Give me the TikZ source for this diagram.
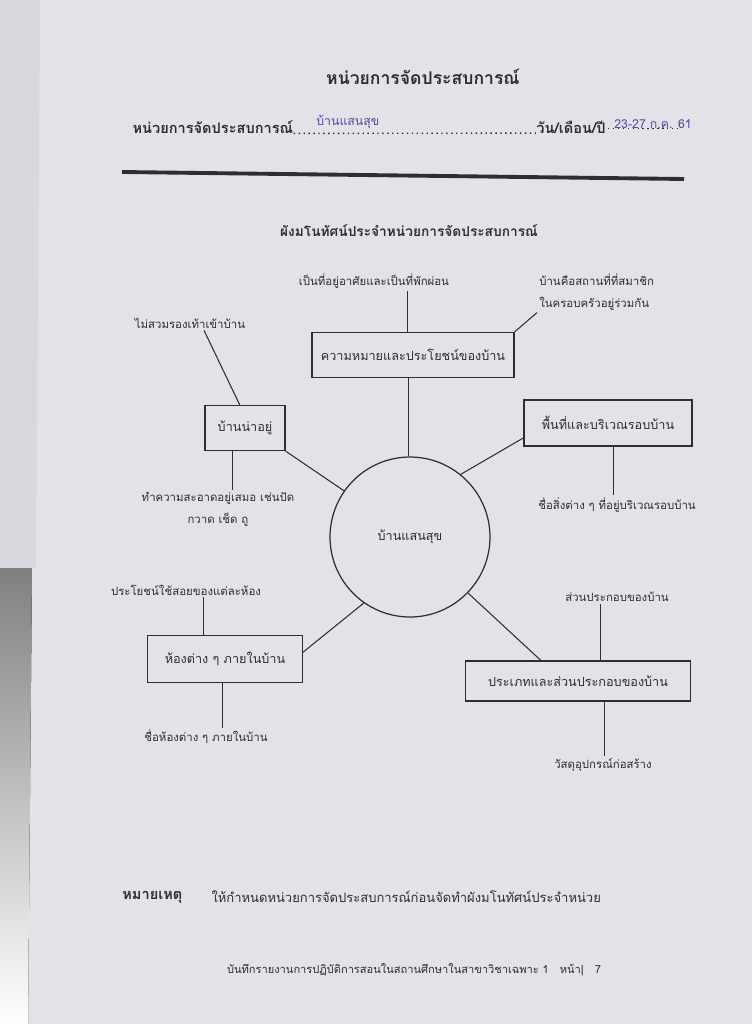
\documentclass[tikz,border=0pt]{standalone}
\usepackage{fontspec}
\setmainfont[Script=Thai]{Loma}
\usetikzlibrary{positioning}
\definecolor{paper}{RGB}{228,226,232}
\definecolor{ink}{RGB}{45,45,50}
\definecolor{pen}{RGB}{85,75,160}
\definecolor{edge}{RGB}{218,215,222}
\definecolor{shade}{RGB}{138,136,143}

\begin{document}
\begin{tikzpicture}[x=0.02cm, y=-0.02cm, line width=0.6pt, draw=ink,
  every node/.style={font=\fontsize{6.5}{12.5}\selectfont, text=ink},
  topic/.style={draw=ink, line width=0.7pt, inner sep=0pt, font=\fontsize{7.2}{9}\selectfont},
  note/.style={inner sep=1pt},
  head/.style={font=\fontsize{8.3}{10}\selectfont\bfseries}]
\fill[paper] (0,0) rectangle (752,1024);
\useasboundingbox (0,0) rectangle (752,1024);
\fill[edge] (0,0) -- (40,0) -- (36,568) -- (0,568) -- cycle;
\fill[shade] (0,568) -- (32,568) -- (28,1024) -- (0,1024) -- cycle;
% header
\node[head, font=\fontsize{10}{12}\selectfont\bfseries] (title) at (423,77) {หน่วยการจัดประสบการณ์};
\node[head, anchor=west, inner sep=0pt] (unit) at (132,127) {หน่วยการจัดประสบการณ์};
\node[head, anchor=east, inner sep=0pt] (day) at (606,127) {วัน/เดือน/ปี};
\draw[dotted, line width=0.8pt] (unit.base east) -- (day.base west);
\node[text=pen, anchor=west, font=\fontsize{7}{9}\selectfont] (unitname) at (310,122) {บ้านแสนสุข};
\node[text=pen, anchor=west, font=\fontsize{7}{9}\selectfont] (date) at (608,124) {23-27 ก.ค. 61};
\draw[dotted, line width=0.8pt] (date.base west) -- ([xshift=-10pt]date.base east);
\draw[line width=2.2pt] (122,172) -- (684,179);
\node[head, font=\fontsize{7.8}{10}\selectfont\bfseries] (mapname) at (409,231) {ผังมโนทัศน์ประจำหน่วยการจัดประสบการณ์};
% concept map
\node[circle, draw, line width=0.7pt, minimum size=3.2cm, font=\fontsize{7.2}{9}\selectfont] (home) at (410,537) {บ้านแสนสุข};
\node[topic, minimum width=4.04cm, minimum height=0.9cm] (meaning) at (413,355) {ความหมายและประโยชน์ของบ้าน};
\node[topic, minimum width=1.6cm, minimum height=0.9cm] (nice) at (245,428) {บ้านน่าอยู่};
\node[topic, minimum width=3.36cm, minimum height=0.92cm] (area) at (608,423) {พื้นที่และบริเวณรอบบ้าน};
\node[topic, minimum width=3.1cm, minimum height=0.94cm] (rooms) at (225,659) {ห้องต่าง ๆ ภายในบ้าน};
\node[topic, minimum width=4.5cm, minimum height=0.8cm] (kind) at (578,681) {ประเภทและส่วนประกอบของบ้าน};
% leaves
\node[note] (shelter) at (374,281) {เป็นที่อยู่อาศัยและเป็นที่พักผ่อน};
\node[note, align=left, anchor=west] (family) at (537,292) {บ้านคือสถานที่ที่สมาชิก\\ในครอบครัวอยู่ร่วมกัน};
\node[note] (shoes) at (190,323) {ไม่สวมรองเท้าเข้าบ้าน};
\node[note, align=center] (clean) at (218,509) {ทำความสะอาดอยู่เสมอ เช่นปัด\\กวาด เช็ด ถู};
\node[note] (things) at (617,505) {ชื่อสิ่งต่าง ๆ ที่อยู่บริเวณรอบบ้าน};
\node[note] (usage) at (186,590) {ประโยชน์ใช้สอยของแต่ละห้อง};
\node[note] (roomnames) at (206,737) {ชื่อห้องต่าง ๆ ภายในบ้าน};
\node[note] (parts) at (617,597) {ส่วนประกอบของบ้าน};
\node[note] (material) at (603,765) {วัสดุอุปกรณ์ก่อสร้าง};
% spokes
\draw ([xshift=-0.6pt]home.north) -- ([xshift=-0.6pt]home.north |- meaning.south);
\draw (nice.south east) -- (home.145);
\draw (area.190) -- (home.51);
\draw (rooms.5) -- (home.235);
\draw (kind.151) -- (home.-44);
% leaf lines
\draw ([xshift=-3pt]meaning.north) -- ([xshift=-3pt]meaning.north |- shelter.south);
\draw (meaning.north east) -- (family.south west);
\draw ([xshift=-3pt]nice.north) -- ([xshift=8pt]shoes.south);
\draw ([xshift=-7pt]nice.south) -- ([xshift=-7pt]nice.south |- clean.north);
\draw ([xshift=3pt]area.south) -- ([xshift=3pt]area.south |- things.north);
\draw ([xshift=-12pt]rooms.north) -- ([xshift=-12pt]rooms.north |- usage.south);
\draw ([xshift=-1.5pt]rooms.south) -- ([xshift=-1.5pt]rooms.south |- roomnames.north);
\draw ([xshift=13pt]kind.north) -- ([xshift=13pt]kind.north |- parts.south);
\draw ([xshift=15pt]kind.south) -- ([xshift=15pt]kind.south |- material.north);
% footer
\node[head, anchor=west] (remark) at (116,897) {หมายเหตุ};
\node[anchor=west, inner sep=0pt, font=\fontsize{7.4}{10}\selectfont] (remarktext) at (211,897) {ให้กำหนดหน่วยการจัดประสบการณ์ก่อนจัดทำผังมโนทัศน์ประจำหน่วย};
\node[font=\fontsize{6.3}{8}\selectfont] (footer) at (414,970) {บันทึกรายงานการปฏิบัติการสอนในสถานศึกษาในสาขาวิชาเฉพาะ 1\quad หน้า\textbar\quad 7};
\end{tikzpicture}
\end{document}
